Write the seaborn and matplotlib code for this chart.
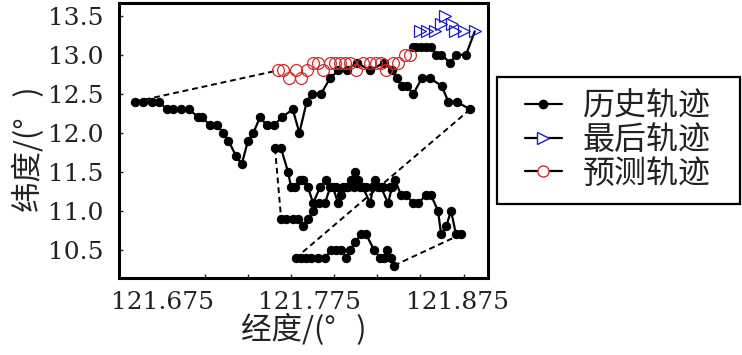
import numpy as np
import pandas as pd
import seaborn as sns
import matplotlib
matplotlib.use("Agg")
import matplotlib.pyplot as plt
from matplotlib.lines import Line2D
from matplotlib.patches import Rectangle

# historical track, piece 1 (left start -> up to 12.9 -> down to 12.3)
hist1_lon = [121.6567, 121.6621, 121.6680, 121.6730, 121.6782, 121.6827, 121.6879, 121.6933,
             121.6996, 121.7019, 121.7075, 121.7121, 121.7166, 121.7200, 121.7252, 121.7290,
             121.7333, 121.7369, 121.7414, 121.7460, 121.7511, 121.7562, 121.7636, 121.7681,
             121.7731, 121.7765, 121.7828, 121.7889, 121.7945, 121.8002, 121.8070, 121.8160,
             121.8255, 121.8309, 121.8343, 121.8375, 121.8409, 121.8454, 121.8511, 121.8567,
             121.8646, 121.8691, 121.8748, 121.8838]
hist1_lat = [12.4, 12.4, 12.4, 12.4, 12.3, 12.3, 12.3, 12.3, 12.2, 12.2, 12.1, 12.1, 12.0, 11.9,
             11.7, 11.6, 11.9, 12.0, 12.2, 12.1, 12.1, 12.2, 12.3, 12.0, 12.4, 12.5, 12.5, 12.7,
             12.8, 12.8, 12.9, 12.8, 12.9, 12.8, 12.7, 12.6, 12.6, 12.5, 12.7, 12.7, 12.6, 12.4,
             12.4, 12.3]

# piece 2 (bottom, around 10.4)
hist2_lon = [121.7659, 121.7692, 121.7726, 121.7760, 121.7808, 121.7855, 121.7896, 121.7930,
             121.7964, 121.7998, 121.8025, 121.8059, 121.8099, 121.8133, 121.8187, 121.8228,
             121.8255, 121.8276, 121.8303, 121.8323]
hist2_lat = [10.4, 10.4, 10.4, 10.4, 10.4, 10.4, 10.5, 10.5, 10.5, 10.4, 10.5, 10.6, 10.7, 10.7,
             10.5, 10.4, 10.4, 10.5, 10.4, 10.3]

# piece 3 (middle, right to left)
hist3_lon = [121.8777, 121.8743, 121.8709, 121.8676, 121.8642, 121.8621, 121.8574, 121.8540,
             121.8486, 121.8452, 121.8404, 121.8370, 121.8330, 121.8296, 121.8248, 121.8214,
             121.8174, 121.8133, 121.8092, 121.8052, 121.8011, 121.7977, 121.7943, 121.7909,
             121.7862, 121.7821, 121.7774, 121.7740, 121.7706, 121.7686, 121.7652, 121.7625,
             121.7604, 121.7557, 121.7516]
hist3_lat = [10.7, 10.7, 11.0, 10.8, 10.7, 11.0, 11.2, 11.2, 11.1, 11.1, 11.2, 11.2, 11.4, 11.3,
             11.3, 11.3, 11.3, 11.3, 11.3, 11.3, 11.3, 11.3, 11.1, 11.3, 11.4, 11.3, 11.1, 11.3,
             11.4, 11.4, 11.3, 11.3, 11.5, 11.8, 11.8]

# piece 4 (middle, left to right)
hist4_lon = [121.7557, 121.7591, 121.7638, 121.7672, 121.7706, 121.7740, 121.7774, 121.7814,
             121.7855, 121.7889, 121.7930, 121.7964, 121.7998, 121.8031, 121.8059, 121.8079,
             121.8113, 121.8160, 121.8194, 121.8235, 121.8282, 121.8309]
hist4_lat = [10.9, 10.9, 10.9, 10.9, 10.8, 10.9, 11.0, 11.1, 11.1, 11.3, 11.3, 11.2, 11.3, 11.4,
             11.5, 11.4, 11.3, 11.1, 11.4, 11.3, 11.1, 11.3]

# piece 5 (top right, leads into the last track)
hist5_lon = [121.8452, 121.8472, 121.8506, 121.8540, 121.8574, 121.8608, 121.8642, 121.8703,
             121.8743, 121.8811]
hist5_lat = [13.1, 13.1, 13.1, 13.1, 13.1, 13.0, 13.0, 12.9, 13.0, 13.0]

last_lon = [121.8499, 121.8545, 121.8601, 121.8642, 121.8669, 121.8716, 121.8737, 121.8798,
            121.8870]
last_lat = [13.3, 13.3, 13.3, 13.4, 13.5, 13.4, 13.3, 13.3, 13.3]

pred_lon = [121.7536, 121.7570, 121.7609, 121.7661, 121.7694, 121.7735, 121.7774, 121.7808,
            121.7842, 121.7887, 121.7921, 121.7955, 121.7989, 121.8023, 121.8067, 121.8113,
            121.8158, 121.8203, 121.8237, 121.8271, 121.8316, 121.8350, 121.8396, 121.8429]
pred_lat = [12.8, 12.8, 12.7, 12.8, 12.7, 12.8, 12.9, 12.9, 12.8, 12.9, 12.9, 12.9, 12.9, 12.9,
            12.8, 12.9, 12.9, 12.9, 12.9, 12.8, 12.9, 12.9, 13.0, 13.0]

xtick_vals = [121.675, 121.775, 121.875]
ytick_vals = [10.5, 11.0, 11.5, 12.0, 12.5, 13.0, 13.5]
legend_labels = ["历史轨迹", "最后轨迹", "预测轨迹"]

sns.set_style("ticks")
plt.rcParams["font.family"] = ["Noto Sans CJK SC", "DejaVu Sans"]

fig = plt.figure(figsize=(7.42, 3.55), dpi=100)
ax = fig.add_axes([0.1604, 0.2169, 0.4973, 0.7738])

# dashed jumps between pieces
jumps = [((hist1_lon[0], pred_lon[0]), (hist1_lat[0], pred_lat[0])),
         ((hist1_lon[-1], hist2_lon[0]), (hist1_lat[-1], hist2_lat[0])),
         ((hist2_lon[-1], hist3_lon[0]), (hist2_lat[-1], hist3_lat[0])),
         ((hist3_lon[-1], hist4_lon[0]), (hist3_lat[-1], hist4_lat[0]))]
for jx, jy in jumps:
    sns.lineplot(x=list(jx), y=list(jy), sort=False, estimator=None, ax=ax,
                 color="black", linestyle=(0, (3, 2)), linewidth=1.4)

# solid historical pieces
for lon, lat in [(hist1_lon, hist1_lat), (hist2_lon, hist2_lat), (hist3_lon, hist3_lat),
                 (hist4_lon, hist4_lat)]:
    sns.lineplot(x=lon, y=lat, sort=False, estimator=None, ax=ax, color="black",
                 linewidth=1.6, marker="o", markersize=6, markeredgecolor="black")

# top piece joins the end of the last track
sns.lineplot(x=hist5_lon + [last_lon[-1]], y=hist5_lat + [last_lat[-1]], sort=False,
             estimator=None, ax=ax, color="black", linewidth=1.6)
sns.scatterplot(x=hist5_lon, y=hist5_lat, ax=ax, color="black", s=38, edgecolor="black",
                linewidth=0.5, zorder=3)

# predicted and last tracks (markers only)
ax.plot(pred_lon, pred_lat, linestyle="none", marker="o", markersize=8.5,
        markerfacecolor="none", markeredgecolor="#d42a2a", markeredgewidth=0.9, zorder=4)
ax.plot(last_lon, last_lat, linestyle="none", marker=">", markersize=9,
        markerfacecolor="none", markeredgecolor="#1a1acc", markeredgewidth=0.9, zorder=4)

ax.set_xlim(121.6458, 121.896)
ax.set_ylim(10.14, 13.66)
ax.set_xticks(xtick_vals)
ax.set_xticklabels([f"{v:.3f}" for v in xtick_vals])
ax.set_xticks(np.arange(121.675, 121.89, 0.0292), minor=True)
ax.set_yticks(ytick_vals)
ax.set_yticklabels([f"{v:.1f}" for v in ytick_vals])
ax.tick_params(axis="x", which="major", length=0, pad=9)
ax.tick_params(axis="x", which="minor", direction="in", length=3, width=1)
ax.tick_params(axis="y", which="major", direction="in", length=3, width=1, pad=11)
for lab in ax.get_xticklabels() + ax.get_yticklabels():
    lab.set_fontfamily("DejaVu Serif")
    lab.set_fontsize(18)
    lab.set_color("#222222")

for sp in ax.spines.values():
    sp.set_linewidth(2.2)
    sp.set_color("black")

ax.set_xlabel("经度/(°   )", fontsize=22, color="#222222", labelpad=0)
ax.set_ylabel("纬度/(°   )", fontsize=22, color="#222222")
ax.yaxis.set_label_coords(-0.20, 0.47)

handles = [
    Line2D([], [], color="black", linewidth=1.6, marker="o", markersize=6),
    Line2D([], [], color="black", linewidth=1.6, marker=">", markersize=8,
           markerfacecolor="white", markeredgecolor="#1a1acc"),
    Line2D([], [], color="black", linewidth=1.6, marker="o", markersize=8,
           markerfacecolor="white", markeredgecolor="#d42a2a"),
]
leg = fig.legend(handles, legend_labels, loc="center left",
                 bbox_to_anchor=(525 / 742, 1 - 140 / 355), fontsize=23, frameon=False,
                 handlelength=1.15, handletextpad=0.65, labelspacing=0.05,
                 borderpad=0, borderaxespad=0)
for t in leg.get_texts():
    t.set_color("#222222")

# legend frame
fig.patches.append(Rectangle((497 / 742, 1 - 204 / 355), 243 / 742, 127 / 355,
                             transform=fig.transFigure, fill=False, edgecolor="black",
                             linewidth=1.6))

fig.savefig("out.png", dpi=100)
